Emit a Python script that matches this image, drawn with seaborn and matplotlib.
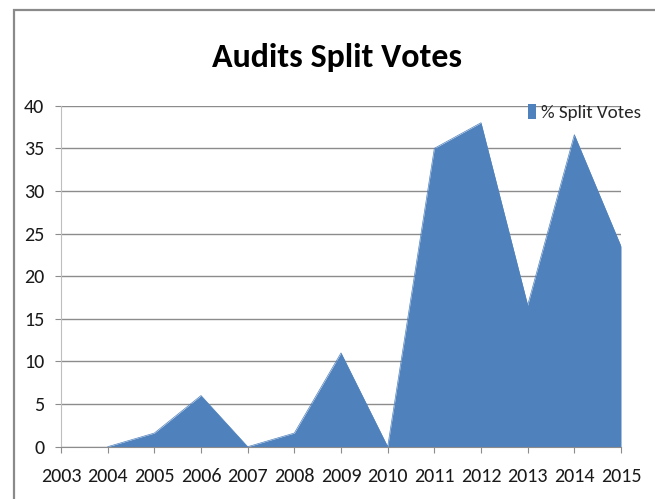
import matplotlib
matplotlib.use("Agg")
import matplotlib.pyplot as plt
import pandas as pd
import seaborn as sns
from matplotlib import font_manager
from matplotlib.patches import Rectangle

# data
years = [2004, 2005, 2006, 2007, 2008, 2009, 2010, 2011, 2012, 2013, 2014, 2015]
split_votes = [0, 1.6, 6.0, 0, 1.6, 11.0, 0, 35.0, 38.0, 16.6, 36.6, 23.5]
tick_years = list(range(2003, 2016))
y_ticks = [0, 5, 10, 15, 20, 25, 30, 35, 40]

df = pd.DataFrame({"year": years, "pct": split_votes})

sns.set_style("white")
# Calibri look-alike if present, otherwise condensed DejaVu
installed = {f.name for f in font_manager.fontManager.ttflist}
if "Carlito" in installed:
    plt.rcParams['font.family'] = ['Carlito', 'DejaVu Sans']
else:
    plt.rcParams['font.family'] = ['DejaVu Sans']
    plt.rcParams['font.stretch'] = 'condensed'

fill_color = "#4F81BD"
grid_color = "#8C8C8C"

fig = plt.figure(figsize=(6.55, 4.99), dpi=100, facecolor="white")
renderer = fig.canvas.get_renderer()


def fit_size(text, width_px, **kw):
    # font size so that text is width_px wide
    t = fig.text(0, 0, text, fontsize=20, **kw)
    w = t.get_window_extent(renderer).width
    t.remove()
    return 20 * width_px / w


tick_size = fit_size("2003", 41)
title_size = fit_size("Audits Split Votes", 250, fontweight="bold")
legend_size = fit_size("% Split Votes", 100)

ax = fig.add_axes([61 / 655, 1 - 446.7 / 499, (621 - 61) / 655, (446.7 - 105.7) / 499])

# area chart: seaborn line + fill underneath
sns.lineplot(data=df, x="year", y="pct", ax=ax, color=fill_color, linewidth=0.5, label="_nolegend_")
ax.fill_between(df["year"], df["pct"], 0, color=fill_color, linewidth=0, label="% Split Votes")

ax.set_xlim(2003, 2015)
ax.set_ylim(0, 40)
ax.set_xticks(tick_years)
ax.set_yticks(y_ticks)
ax.set_xlabel("")
ax.set_ylabel("")

ax.yaxis.grid(True, color=grid_color, linewidth=1)
ax.set_axisbelow(True)
for side in ["top", "right"]:
    ax.spines[side].set_visible(False)
ax.spines["left"].set_color("#BEBEBE")
ax.spines["bottom"].set_color(grid_color)
ax.tick_params(axis="x", direction="out", length=4, color=grid_color, pad=11,
               labelsize=tick_size, labelcolor="#1a1a1a", bottom=True)
ax.tick_params(axis="y", direction="out", length=4, color=grid_color, pad=8,
               labelsize=tick_size, labelcolor="#1a1a1a", left=True)

fig.text(337 / 655, 1 - 57 / 499, "Audits Split Votes", ha="center", va="center",
         fontsize=title_size, fontweight="bold", color="black")

fig.legend(loc="upper right", bbox_to_anchor=(641 / 655, 1 - 104 / 499), frameon=False,
           fontsize=legend_size, handlelength=0.45, handleheight=0.8, handletextpad=0.25,
           borderpad=0, borderaxespad=0)

# outer chart frame, cut off at right and bottom like the reference
fig.patches.append(Rectangle((14 / 655, -0.1), 1.2, 1 - 10 / 499 + 0.1, transform=fig.transFigure,
                             fill=False, edgecolor="#8A8A8A", linewidth=1.6))

fig.savefig("out.png", dpi=100)
